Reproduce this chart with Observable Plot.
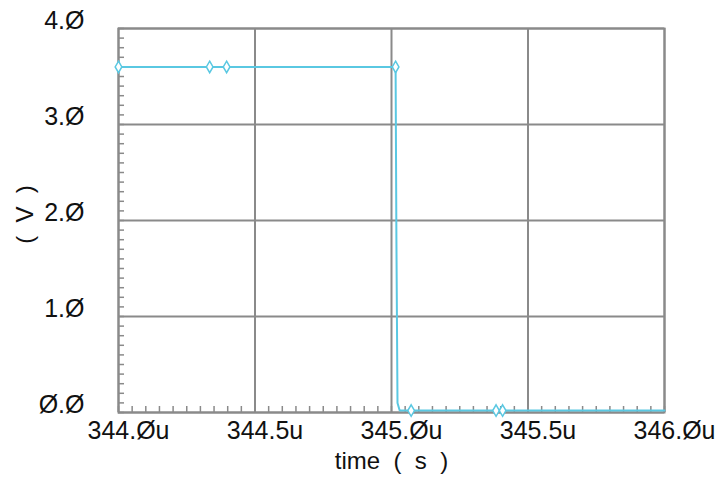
<!DOCTYPE html>
<html><head><meta charset="utf-8">
<script src="https://cdn.jsdelivr.net/npm/d3@7"></script>
<script src="https://cdn.jsdelivr.net/npm/@observablehq/plot@0.6"></script>
<style>body{margin:0;background:#fff}</style>
</head><body><div id="chart"></div>
<script>
const lineTime = [344.0, 344.334, 344.396, 345.015, 345.018, 345.022, 345.03, 345.072, 345.383, 345.407, 346.0];
const lineVolt = [3.6, 3.6, 3.6, 3.6, 1.8, 0.1, 0.02, 0.02, 0.02, 0.02, 0.02];
const markerTime = [344.0, 344.334, 344.396, 345.015, 345.072, 345.383, 345.407];
const markerVolt = [3.6, 3.6, 3.6, 3.6, 0.02, 0.02, 0.02];
const xTicks = [344.0, 344.5, 345.0, 345.5, 346.0];
const xTickLabels = ["344.Øu", "344.5u", "345.Øu", "345.5u", "346.Øu"];
const yTicks = [0, 1, 2, 3, 4];
const yTickLabels = ["Ø.Ø", "1.Ø", "2.Ø", "3.Ø", "4.Ø"];
const xTitle = "time\u00a0 (\u00a0 s\u00a0 )";
const yTitle = "(\u00a0 V\u00a0 )";
const xMinor = d3.range(0, 41).map(i => 344 + i * 0.05);
const yMinor = d3.range(0, 41).map(i => i * 0.1);

const lineData = lineTime.map((t, i) => ({t, v: lineVolt[i]}));
const markerData = markerTime.map((t, i) => ({t, v: markerVolt[i]}));
const grid = "#8a8a8a";
const cyan = "#5ac8e2";

const chart = Plot.plot({
  width: 717, height: 477,
  marginLeft: 118, marginTop: 28, marginRight: 53, marginBottom: 65,
  style: {fontFamily: "Liberation Sans, sans-serif", fontSize: "25px", color: "#111", background: "#fff"},
  x: {domain: [344, 346], label: null},
  y: {domain: [0, 4], label: null},
  marks: [
    Plot.gridX(xTicks, {stroke: grid, strokeOpacity: 1, strokeWidth: 2}),
    Plot.gridY(yTicks, {stroke: grid, strokeOpacity: 1, strokeWidth: 2}),
    Plot.axisX(xMinor, {tickSize: -6, stroke: grid, strokeWidth: 1.5, text: null, label: null}),
    Plot.axisY(yMinor, {tickSize: -6, stroke: grid, strokeWidth: 1.5, text: null, label: null}),
    Plot.axisX(xTicks, {tickSize: 0, tickFormat: (d, i) => xTickLabels[i], dx: 10, dy: 0, label: null}),
    Plot.axisY(yTicks, {tickSize: 0, tickFormat: (d, i) => yTickLabels[i], dx: -25, dy: -8, label: null}),
    Plot.frame({stroke: grid, strokeWidth: 2}),
    Plot.line(lineData, {x: "t", y: "v", stroke: cyan, strokeWidth: 2}),
    Plot.dot(markerData, {x: "t", y: "v", symbol: "diamond", r: 3.5, stroke: cyan, strokeWidth: 1.5, fill: "white"}),
    Plot.text([xTitle], {frameAnchor: "bottom", lineAnchor: "middle", dy: 49, fontSize: 24, fill: "#111"}),
    Plot.text([yTitle], {frameAnchor: "left", textAnchor: "middle", lineAnchor: "middle", dx: -93, dy: -6, rotate: -90, fontSize: 24, fill: "#111"})
  ]
});
document.getElementById("chart").appendChild(chart);
</script>
</body></html>
